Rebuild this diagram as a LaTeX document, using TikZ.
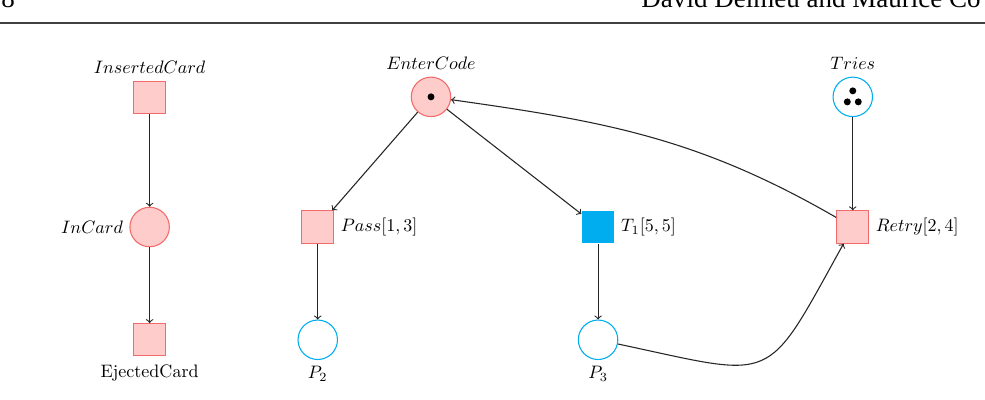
\documentclass[tikz,border=0pt]{standalone}
\usepackage{fontspec}
\newfontfamily\hdrfont{Liberation Serif}
\usetikzlibrary{arrows}

\definecolor{pnpink}{HTML}{FFCCCC}
\definecolor{pnred}{HTML}{F26B6B}
\definecolor{pncyan}{HTML}{00AEEF}

\tikzset{
  ptrans/.style={draw=pnred, semithick, fill=pnpink, minimum size=0.63cm, inner sep=0pt},
  pplace/.style={circle, draw=pnred, semithick, fill=pnpink, minimum size=0.77cm, inner sep=0pt},
  cplace/.style={circle, draw=pncyan, semithick, fill=white, minimum size=0.77cm, inner sep=0pt},
  ctrans/.style={fill=pncyan, minimum size=0.64cm, inner sep=0pt},
  arc/.style={->, >=to, semithick, black!85},
}

\begin{document}
\begin{tikzpicture}[x=1cm,y=1cm]
  \useasboundingbox (0,0) rectangle (19.22,-7.805);
  % running head
  \draw[line width=0.8pt, black!75] (0,-0.45) -- (19.22,-0.45);
  \node[font=\hdrfont\fontsize{15}{18}\selectfont, anchor=base west, inner sep=0pt] (pagenum) at (0.02,-0.14) {8};
  \node[font=\hdrfont\fontsize{15}{18}\selectfont, anchor=base west, inner sep=0pt] (authors) at (12.51,-0.14) {David Delmeu and Maurice Co};

  % card
  \node[ptrans, label={[label distance=0.5pt]above:$InsertedCard$}] (inserted) at (2.92,-1.90) {};
  \node[pplace, label=left:$InCard$] (incard) at (2.92,-4.43) {};
  \node[ptrans, label={[label distance=1pt]below:EjectedCard}] (ejected) at (2.92,-6.63) {};

  % code
  \node[pplace, label={[label distance=0.5pt]above:$EnterCode$}] (entercode) at (8.41,-1.89) {};
  \node[ptrans, label=right:{$Pass[1,3]$}] (pass) at (6.20,-4.43) {};
  \node[cplace, label=below:$P_2$] (ptwo) at (6.20,-6.63) {};
  \node[ctrans, label=right:{$T_1[5,5]$}] (tone) at (11.67,-4.43) {};
  \node[cplace, label=below:$P_3$] (pthree) at (11.67,-6.63) {};
  \node[cplace, label={[label distance=0.5pt]above:$Tries$}] (tries) at (16.64,-1.89) {};
  \node[ptrans, label=right:{$Retry[2,4]$}] (retry) at (16.64,-4.43) {};

  % tokens
  \fill (entercode) circle (0.068);
  \fill ([yshift=0.117cm]tries.center) circle (0.068);
  \fill ([shift={(-0.107,-0.098)}]tries.center) circle (0.068);
  \fill ([shift={(0.107,-0.098)}]tries.center) circle (0.068);

  \draw[arc] (inserted) -- (incard);
  \draw[arc] (incard) -- (ejected);
  \draw[arc] (entercode) -- (pass);
  \draw[arc] (entercode) -- (tone);
  \draw[arc] (pass) -- (ptwo);
  \draw[arc] (tone) -- (pthree);
  \draw[arc] (tries) -- (retry);
  \draw[arc] (retry) to[out=150, in=-8] (entercode);
  \draw[arc] (pthree) to[out=-12, in=-119, looseness=1.7] (retry);
\end{tikzpicture}
\end{document}
